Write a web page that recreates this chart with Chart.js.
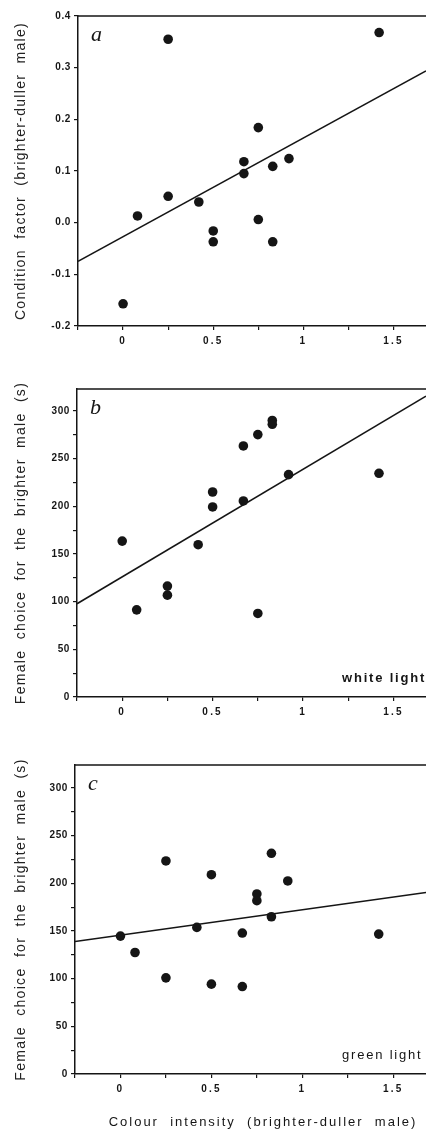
<!DOCTYPE html>
<html>
<head>
<meta charset="utf-8">
<script src="https://cdn.jsdelivr.net/npm/chart.js@4/dist/chart.umd.min.js"></script>
<style>
  body { margin: 0; background: #fff; width: 426px; height: 1130px; overflow: hidden; position: relative; }
  canvas { position: absolute; left: 0; }
</style>
</head>
<body>
<canvas id="chartA" width="426" height="360" style="top:0px"></canvas>
<canvas id="chartB" width="426" height="358" style="top:373px"></canvas>
<canvas id="chartC" width="426" height="381" style="top:749px"></canvas>
<script>
// colour intensity difference for each pair of males (same pairs in all panels)
const intensity = [0, 0.08, 0.25, 0.25, 0.42, 0.5, 0.5, 0.67, 0.67, 0.75, 0.75, 0.83, 0.83, 0.92, 1.42];
const conditionFactor = [-0.157, 0.013, 0.355, 0.051, 0.040, -0.016, -0.037, 0.118, 0.095, 0.184, 0.006, 0.109, -0.037, 0.124, 0.368];
const choiceWhite = [163.5, 91.4, 116.3, 106.8, 159.7, 215, 199.3, 263.3, 205.6, 275.2, 87.6, 290, 286, 233.2, 234.6];
const choiceGreen = [144.6, 127.4, 223.4, 100.8, 153.7, 209, 94.2, 147.8, 91.7, 188.8, 181.7, 231.4, 164.9, 202.4, 146.7];

// regression lines: [intercept, slope]
const fitA = [-0.027, 0.191];
const fitB = [126, 112.8];
const fitC = [145.6, 26.6];

const xMin = -0.25, xMax = 1.68;
const xLabels = [0, 0.5, 1, 1.5];

const ink = '#151515';
const sans = "'Liberation Sans', Arial, sans-serif";

function spaced(scale, method, px) {
  const orig = scale[method];
  if (orig._spaced) return;
  const f = function (...args) {
    const c = this.ctx;
    c.save();
    c.letterSpacing = px + 'px';
    orig.apply(this, args);
    c.restore();
  };
  f._spaced = true;
  scale[method] = f;
}

const panelPlugin = {
  id: 'panel',
  beforeDraw(chart) {
    spaced(chart.scales.x, 'drawLabels', 2.2);
    spaced(chart.scales.y, 'drawLabels', 0.6);
    spaced(chart.scales.y, 'drawTitle', 1.3);
  },
  afterDraw(chart, args, opts) {
    const { ctx, chartArea: a } = chart;
    ctx.save();
    // top frame line
    ctx.strokeStyle = ink;
    ctx.lineWidth = 1.5;
    ctx.beginPath();
    ctx.moveTo(a.left, a.top);
    ctx.lineTo(a.right, a.top);
    ctx.stroke();
    // panel letter
    ctx.fillStyle = ink;
    ctx.font = "italic 22px 'Liberation Serif', serif";
    ctx.textAlign = 'left';
    ctx.textBaseline = 'alphabetic';
    ctx.fillText(opts.letter, a.left + 13, a.top + 25);
    if (opts.note) {
      ctx.font = (opts.noteWeight || 'bold') + ' 13px ' + sans;
      ctx.letterSpacing = '1.8px';
      ctx.fillText(opts.note, a.right - 84, a.bottom - 15);
    }
    if (opts.xTitle) {
      ctx.font = '13px ' + sans;
      ctx.letterSpacing = '2px';
      ctx.textAlign = 'center';
      ctx.textBaseline = 'middle';
      ctx.fillText(opts.xTitle, a.left + 188, chart.height - 8);
    }
    ctx.restore();
  }
};

function makePanel(id, values, fit, yOpts, plug) {
  const line = [xMin, xMax].map(x => ({ x: x, y: fit[0] + fit[1] * x }));
  return new Chart(document.getElementById(id), {
    type: 'scatter',
    data: {
      datasets: [
        {
          data: intensity.map((x, i) => ({ x: x, y: values[i] })),
          backgroundColor: ink,
          borderWidth: 0,
          pointRadius: 4.8,
          pointHoverRadius: 4.8
        },
        {
          data: line,
          showLine: true,
          borderColor: ink,
          borderWidth: 1.6,
          pointRadius: 0
        }
      ]
    },
    options: {
      responsive: false,
      animation: false,
      events: [],
      layout: { autoPadding: false, padding: { top: 16, right: 0, left: 0, bottom: 0 } },
      plugins: { legend: { display: false }, tooltip: { enabled: false }, panel: plug },
      scales: {
        x: {
          type: 'linear',
          min: xMin,
          max: xMax,
          afterFit: s => { s.height = plug.xHeight; s.paddingLeft = 0; s.paddingRight = 0; },
          border: { color: ink, width: 1.5 },
          grid: { drawOnChartArea: false, drawTicks: true, tickLength: 4, color: ink, lineWidth: 1.2 },
          ticks: {
            stepSize: 0.25,
            includeBounds: false,
            padding: 5,
            maxRotation: 0,
            autoSkip: false,
            color: ink,
            font: { family: sans, size: 10, weight: 'bold' },
            callback: v => xLabels.some(t => Math.abs(t - v) < 1e-6) ? String(v) : ''
          }
        },
        y: {
          min: yOpts.min,
          max: yOpts.max,
          afterFit: s => { s.width = plug.yWidth; s.paddingTop = 0; s.paddingBottom = 0; },
          border: { color: ink, width: 1.5 },
          grid: { drawOnChartArea: false, drawTicks: true, tickLength: 4, color: ink, lineWidth: 1.2 },
          title: {
            display: true,
            text: yOpts.title,
            color: '#222',
            padding: { top: 13, bottom: 0 },
            font: { family: sans, size: 14 }
          },
          ticks: {
            stepSize: yOpts.step,
            includeBounds: false,
            padding: 3,
            autoSkip: false,
            color: ink,
            font: { family: sans, size: 10, weight: 'bold' },
            callback: yOpts.label
          }
        }
      }
    },
    plugins: [panelPlugin]
  });
}

const choiceTitle = 'Female  choice  for  the  brighter  male  (s)';
const choiceLabel = v => (Math.abs(v % 50) < 1e-6 ? String(v) : '');

makePanel('chartA', conditionFactor, fitA, {
  min: -0.2, max: 0.4, step: 0.1,
  title: 'Condition  factor  (brighter-duller  male)',
  label: v => (Math.abs(v) < 1e-9 ? '0.0' : v.toFixed(1))
}, { letter: 'a', yWidth: 78, xHeight: 34 });

makePanel('chartB', choiceWhite, fitB, {
  min: 0, max: 323, step: 25, title: choiceTitle, label: choiceLabel
}, { letter: 'b', note: 'white light', yWidth: 77, xHeight: 34 });

makePanel('chartC', choiceGreen, fitC, {
  min: 0, max: 324, step: 25, title: choiceTitle, label: choiceLabel
}, { letter: 'c', note: 'green light', noteWeight: 'normal', yWidth: 75, xHeight: 56,
     xTitle: 'Colour  intensity  (brighter-duller  male)' });
</script>
</body>
</html>
